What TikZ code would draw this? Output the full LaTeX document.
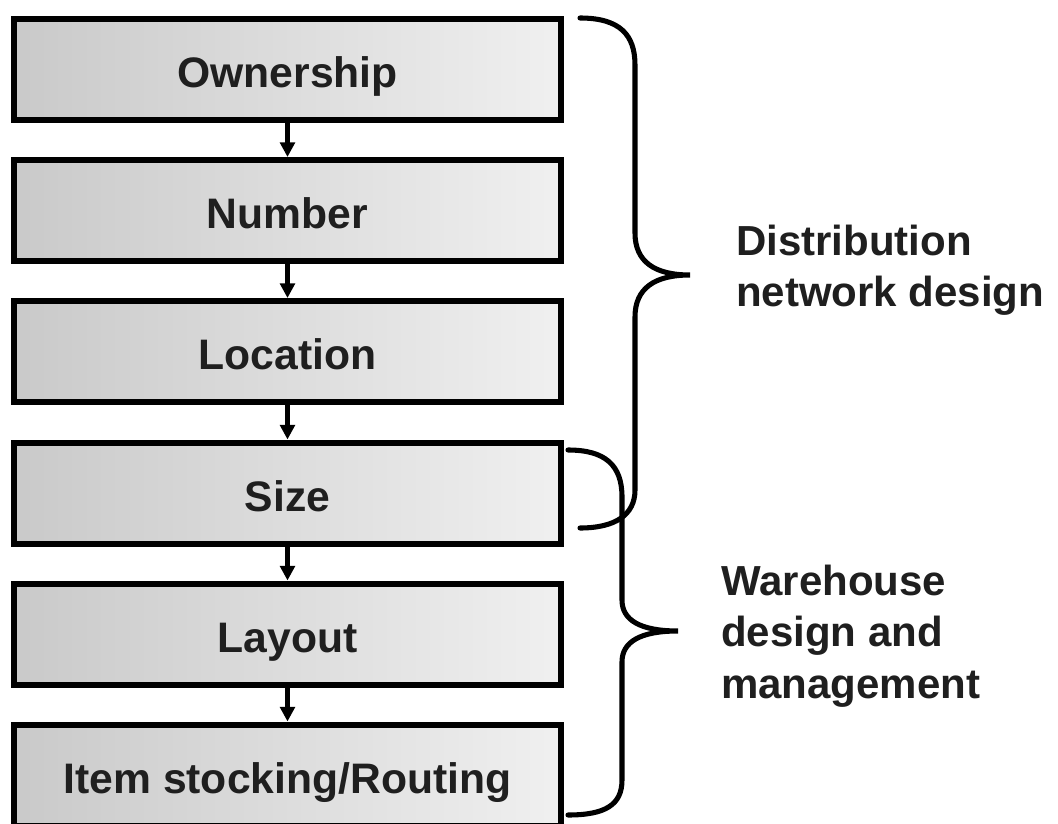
\documentclass[tikz,border=0pt]{standalone}
\usepackage{fontspec}
\setmainfont{Liberation Sans}
\usetikzlibrary{arrows.meta}
\begin{document}
\begin{tikzpicture}[x=0.75pt,y=-0.75pt,
  stepbox/.style={draw=black,line width=4.5pt,left color=black!21,right color=black!6,
    minimum width=547*0.75pt,minimum height=101*0.75pt,inner sep=0pt,
    text height=27pt,text depth=0pt,
    font=\fontsize{32pt}{38pt}\selectfont\bfseries,text=black!88},
  flow/.style={line width=3.2pt,-{Triangle[length=11pt,width=11pt]}},
  brace/.style={line width=3.8pt,line cap=round},
  lbl/.style={anchor=west,align=left,inner sep=0pt,font=\fontsize{31.5pt}{38.5pt}\selectfont\bfseries,text=black!88}]
\useasboundingbox[fill=white] (0,0) rectangle (1058,824);
\node[stepbox] (b1) at (287.5,69.5) {Ownership};
\node[stepbox] (b2) at (287.5,210.5) {Number};
\node[stepbox] (b3) at (287.5,351.5) {Location};
\node[stepbox] (b4) at (287.5,493) {Size};
\node[stepbox] (b5) at (287.5,634) {Layout};
\node[stepbox] (b6) at (287.5,775) {Item stocking/Routing};
\foreach \a/\b in {b1/b2,b2/b3,b3/b4,b4/b5,b5/b6}
  \draw[flow] (\a.south) -- (\b.north);
% brace 1
\coordinate (t1) at (690,275);
\draw[brace] (580,18) .. controls (620,18) and (635,35) .. (635,65) -- (635,233)
  .. controls (635,262) and (655,275) .. (t1)
  .. controls (655,275) and (635,288) .. (635,317) -- (635,490)
  .. controls (635,515) and (615,528) .. (580,528);
% brace 2
\coordinate (t2) at (678,631);
\draw[brace] (568,450) .. controls (605,450) and (622,465) .. (622,497) -- (622,600)
  .. controls (622,620) and (640,631) .. (t2)
  .. controls (640,631) and (622,642) .. (622,662) -- (622,780)
  .. controls (622,805) and (605,815) .. (568,815);
\node[lbl] (l1) at (736,270) {Distribution\\network design};
\node[lbl] (l2) at (721,636) {Warehouse\\design and\\management};
\end{tikzpicture}
\end{document}
